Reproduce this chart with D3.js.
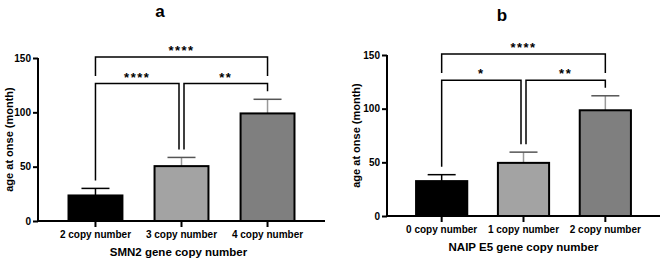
<!DOCTYPE html>
<html><head><meta charset="utf-8">
<script src="https://cdn.jsdelivr.net/npm/d3@7"></script>
<style>body{margin:0;background:#fff}svg{display:block;font-family:"Liberation Sans",Arial,sans-serif;font-weight:bold}svg text{fill:#000}</style>
</head><body><svg id="c" width="660" height="259"></svg>
<script>
// Panel a
const catsA = ["2 copy number","3 copy number","4 copy number"];
const meansA = [23.5, 50.5, 99];
const errA = [30, 58.5, 112];
const compA = [[0,2,"****",0],[0,1,"****",1],[1,2,"**",1]];
// Panel b
const catsB = ["0 copy number","1 copy number","2 copy number"];
const meansB = [32.5, 49.5, 98.5];
const errB = [38.5, 59.5, 112];
const compB = [[0,2,"****",0],[0,1,"*",1],[1,2,"**",1]];
const yTicks = [0,50,100,150];
const fills = ["#000000","#a3a3a3","#7f7f7f"];

const svg = d3.select("#c");

function panel(o){
  const g = svg.append("g");
  const x = d3.scaleBand().domain(o.cats).range([o.x0,o.x1]).paddingInner(0.35).paddingOuter(0.343);
  const y = d3.scaleLinear().domain([0,150]).range([o.y0,o.y1]);
  o.cats.forEach((c,i)=>{
    const cx = x(c)+x.bandwidth()/2;
    g.append("line").attr("x1",cx).attr("x2",cx).attr("y1",y(o.means[i])).attr("y2",y(o.err[i]))
      .attr("stroke", i===0?"#000":"#999").attr("stroke-width",1.5);
    g.append("line").attr("x1",cx-14).attr("x2",cx+14).attr("y1",y(o.err[i])).attr("y2",y(o.err[i]))
      .attr("stroke", i===0?"#000":"#555").attr("stroke-width",1.5);
    g.append("rect").attr("x",x(c)+1).attr("y",y(o.means[i])).attr("width",x.bandwidth()-2)
      .attr("height",y(0)-y(o.means[i])).attr("fill",fills[i]).attr("stroke","#000").attr("stroke-width",2);
  });
  const ya = g.append("g").attr("transform",`translate(${o.x0},0)`)
    .call(d3.axisLeft(y).tickValues(yTicks).tickSize(5).tickPadding(2));
  ya.select(".domain").attr("stroke-width",2).attr("d",`M0,${o.y0+1}V${o.y1}`);
  ya.selectAll(".tick line").attr("stroke-width",2);
  ya.selectAll("text").attr("font-size",10).attr("font-weight","bold").attr("font-family","Liberation Sans, Arial").attr("fill","#000");
  const xa = g.append("g").attr("transform",`translate(0,${o.y0})`)
    .call(d3.axisBottom(x).tickSize(6).tickPadding(4));
  xa.select(".domain").attr("stroke-width",2).attr("d",`M${o.x0-1},0H${o.x1}`);
  xa.selectAll(".tick line").attr("stroke-width",2);
  xa.selectAll("text").attr("font-size",10).attr("font-weight","bold").attr("font-family","Liberation Sans, Arial").attr("fill","#000");
  o.comp.forEach(([a,b,lab,lvl])=>{
    let xa_ = x(o.cats[a])+x.bandwidth()/2, xb = x(o.cats[b])+x.bandwidth()/2;
    const by = lvl===0 ? y(151) : y(126.5);
    let ya1, yb1;
    if(lvl===0){ ya1 = by+19; yb1 = by+19; }
    else {
      ya1 = y(o.err[a])-8; yb1 = y(o.err[b])-8;
      if(b-a===1){ if(a===0) xb -= 2.5; else xa_ += 2.5; }
    }
    g.append("path").attr("d",`M${xa_},${ya1}V${by}H${xb}V${yb1}`).attr("fill","none").attr("stroke","#000").attr("stroke-width",1.5);
    g.append("text").attr("x",(xa_+xb)/2).attr("y",by-2).attr("text-anchor","middle")
      .attr("font-size",13).attr("letter-spacing",1.5).attr("fill","#000").text(lab);
  });
  g.append("text").attr("x",o.tx).attr("y",o.ty).attr("text-anchor","middle").attr("font-size",17).attr("fill","#000").text(o.title);
  g.append("text").attr("transform",`translate(${o.lx},${(o.y0+o.y1)/2}) rotate(-90)`).attr("text-anchor","middle")
    .attr("dy","0.35em").attr("font-size",11).attr("fill","#000").text("age at onse (month)");
  g.append("text").attr("x",(o.x0+o.x1)/2+o.xtOff).attr("y",o.y0+35).attr("text-anchor","middle").attr("font-size",11.5).attr("fill","#000").text(o.xtitle);
}

panel({cats:catsA,means:meansA,err:errA,comp:compA,x0:38,x1:325,y0:221,y1:58,title:"a",tx:160,ty:17,lx:9,xtitle:"SMN2 gene copy number",xtOff:-3});
panel({cats:catsB,means:meansB,err:errB,comp:compB,x0:387,x1:660,y0:216,y1:55,title:"b",tx:502,ty:21,lx:356,xtitle:"NAIP E5 gene copy number",xtOff:0});
</script></body></html>
